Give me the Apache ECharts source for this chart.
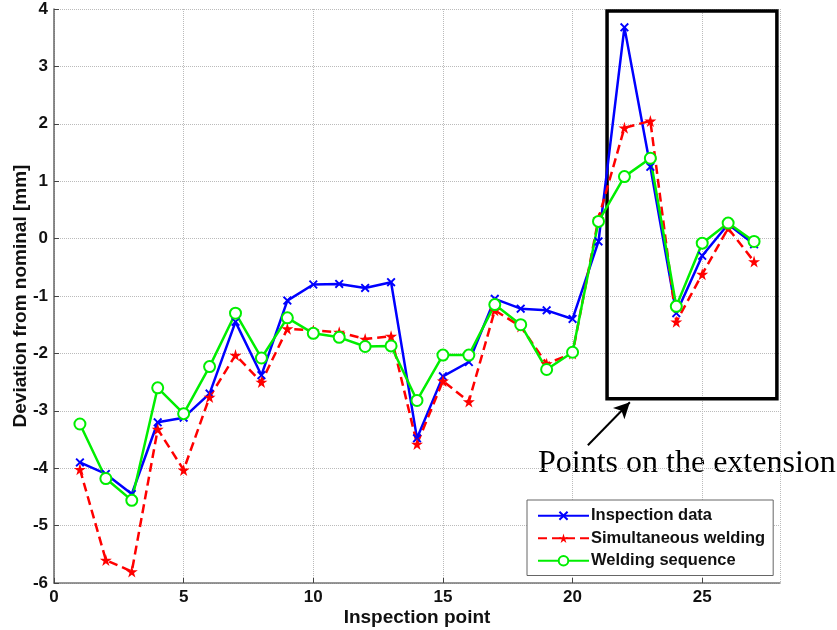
<!DOCTYPE html>
<html>
<head>
<meta charset="utf-8">
<script src="https://cdn.jsdelivr.net/npm/echarts@6/dist/echarts.min.js"></script>
<style>
html,body{margin:0;padding:0;background:#fff;}
#chart{width:837px;height:630px;}
</style>
</head>
<body>
<div id="chart"></div>
<script>
// ---- data ----
const points = [1,2,3,4,5,6,7,8,9,10,11,12,13,14,15,16,17,18,19,20,21,22,23,24,25,26,27];
const inspectionData = [-3.9,-4.1,-4.45,-3.2,-3.12,-2.7,-1.45,-2.38,-1.08,-0.8,-0.79,-0.86,-0.76,-3.48,-2.4,-2.15,-1.05,-1.22,-1.25,-1.4,-0.05,3.68,1.25,-1.3,-0.3,0.25,-0.1];
const simultaneousWelding = [-4.02,-5.6,-5.8,-3.32,-4.03,-2.76,-2.03,-2.5,-1.57,-1.6,-1.63,-1.75,-1.7,-3.58,-2.48,-2.84,-1.25,-1.53,-2.18,-2.0,0.35,1.93,2.05,-1.45,-0.62,0.18,-0.4];
const weldingSequence = [-3.23,-4.18,-4.56,-2.6,-3.05,-2.23,-1.3,-2.08,-1.38,-1.65,-1.72,-1.88,-1.87,-2.82,-2.03,-2.03,-1.15,-1.5,-2.28,-1.98,0.3,1.08,1.4,-1.18,-0.08,0.27,-0.05];
const seriesNames = ['Inspection data','Simultaneous welding','Welding sequence'];
const xTicks = [0,5,10,15,20,25];
const yTicks = [-6,-5,-4,-3,-2,-1,0,1,2,3,4];
// annotation (data coords)
const boxCorners = [[21.33,3.965],[27.88,-2.79]];
const arrowFromTo = [[20.59,-3.6],[22.21,-2.85]];
const annotationText = 'Points on the extension';

const pairs = arr => points.map((p,i)=>[p,arr[i]]);

const xPath = 'path://M0,1.5L1.5,0L5,3.5L8.5,0L10,1.5L6.5,5L10,8.5L8.5,10L5,6.5L1.5,10L0,8.5L3.5,5Z';
const starPath = 'path://M50,0L61,35L98,35L68,57L79,91L50,70L21,91L32,57L2,35L39,35Z';

const chart = echarts.init(document.getElementById('chart'), null, {renderer:'canvas'});
const font = 'Liberation Sans, Arial, sans-serif';

chart.setOption({
  animation:false,
  backgroundColor:'#fff',
  grid:{left:54,right:57,top:9,bottom:47,containLabel:false,outerBoundsMode:'none'},
  xAxis:{
    type:'value',min:0,max:28,interval:5,
    name:'Inspection point',nameLocation:'middle',nameGap:25,nameMoveOverlap:false,
    nameTextStyle:{fontFamily:font,fontWeight:'bold',fontSize:19,color:'#111'},
    axisLine:{show:true,onZero:false,lineStyle:{color:'#777',width:1.5}},
    axisTick:{show:true,inside:true,length:5,lineStyle:{color:'#444'}},
    axisLabel:{showMaxLabel:false,margin:6,fontFamily:font,fontWeight:'bold',fontSize:17,color:'#111',
      formatter:v=> xTicks.indexOf(v)>=0 ? String(v) : ''},
    splitLine:{show:true,lineStyle:{color:'#bbb',type:'dotted',width:1}}
  },
  yAxis:{
    type:'value',min:-6,max:4,interval:1,
    name:'Deviation from nominal [mm]',nameLocation:'middle',nameGap:24,nameMoveOverlap:false,
    nameTextStyle:{fontFamily:font,fontWeight:'bold',fontSize:19,color:'#111'},
    axisLine:{show:true,onZero:false,lineStyle:{color:'#666',width:1.5}},
    axisTick:{show:true,inside:true,length:5,lineStyle:{color:'#444'}},
    axisLabel:{margin:6,fontFamily:font,fontWeight:'bold',fontSize:17,color:'#111',
      formatter:v=> yTicks.indexOf(v)>=0 ? String(v) : ''},
    splitLine:{show:true,lineStyle:{color:'#bbb',type:'dotted',width:1}}
  },
  legend:{
    data:seriesNames,orient:'vertical',left:527,top:500,
    width:248,
    padding:[7,8,6,10],itemGap:5,itemWidth:51,itemHeight:12,
    backgroundColor:'#fff',borderColor:'#666',borderWidth:1,
    textStyle:{fontFamily:font,fontWeight:'bold',fontSize:16.5,color:'#111',lineHeight:17.5,padding:[0,0,0,-3]}
  },
  series:[
    {
      name:seriesNames[0],type:'line',data:pairs(inspectionData),
      symbol:xPath,symbolSize:9,
      lineStyle:{color:'#0000ff',width:2.5},
      itemStyle:{color:'#0000ff'},
      markArea:{silent:true,
        itemStyle:{color:'rgba(0,0,0,0)',borderColor:'#000',borderWidth:3.5},
        data:[[{coord:boxCorners[0]},{coord:boxCorners[1]}]]},
      markLine:{silent:true,symbol:['none','arrow'],symbolSize:[12,16],
        lineStyle:{color:'#000',width:2,type:'solid'},label:{show:false},
        data:[[{coord:arrowFromTo[0]},{coord:arrowFromTo[1]}]]}
    },
    {
      name:seriesNames[1],type:'line',data:pairs(simultaneousWelding),
      symbol:starPath,symbolSize:12,
      lineStyle:{color:'#ff0000',width:2.5,type:[9,5]},
      itemStyle:{color:'#ff0000'}
    },
    {
      name:seriesNames[2],type:'line',data:pairs(weldingSequence),
      symbol:'emptyCircle',symbolSize:11,
      lineStyle:{color:'#00ee00',width:2.5},
      itemStyle:{color:'#00ee00',borderWidth:2}
    }
  ],
  graphic:[{
    type:'text',left:538,top:448,silent:true,
    style:{text:annotationText,fontFamily:'Liberation Serif, Times New Roman, serif',fontSize:32,fill:'#000'}
  }]
});
</script>
</body>
</html>
